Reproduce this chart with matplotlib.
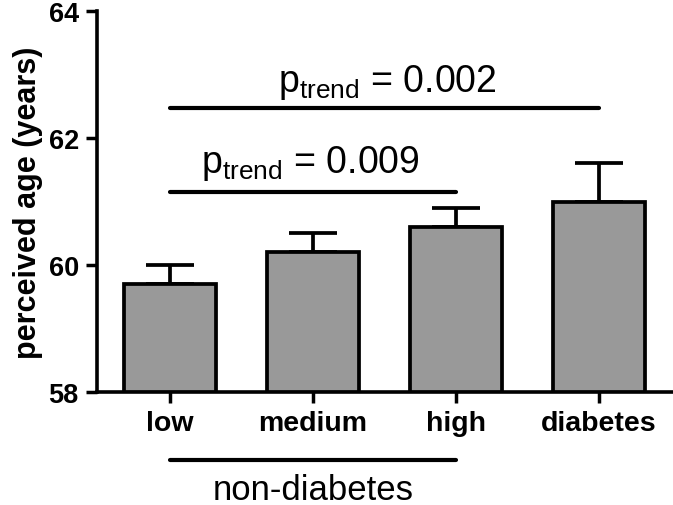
import matplotlib
matplotlib.use("Agg")
import matplotlib.pyplot as plt

categories = ["low", "medium", "high", "diabetes"]
means = [59.7, 60.2, 60.6, 61.0]
errors = [0.3, 0.3, 0.3, 0.6]
yticks = [58, 60, 62, 64]
trend_labels = ["0.009", "0.002"]
trend_line_y = [61.15, 62.47]
trend_line_end = [2, 3]
group_label = "non-diabetes"

plt.rcParams['font.family'] = ['Liberation Sans', 'DejaVu Sans']
plt.rcParams['mathtext.fontset'] = 'custom'
plt.rcParams['mathtext.rm'] = 'Liberation Sans'
plt.rcParams['mathtext.it'] = 'Liberation Sans:italic'
plt.rcParams['mathtext.bf'] = 'Liberation Sans:bold'

fig = plt.figure(figsize=(6.73, 5.06), dpi=100)
ax = fig.add_axes([0.144, 0.2233, 0.8545, 0.7530])

x = list(range(len(categories)))
ax.bar(x, [m - 58 for m in means], bottom=58, width=0.645, color="#999999",
       edgecolor="black", linewidth=2.7, zorder=3)
ax.errorbar(x, means, yerr=[[0] * len(errors), errors], fmt="none",
            ecolor="black", elinewidth=2.7, capsize=17, capthick=2.7, zorder=2)

ax.set_xlim(-0.51, 3.51)
ax.set_ylim(58, 64)
ax.set_yticks(yticks)
ax.set_yticklabels([str(t) for t in yticks], fontsize=19.5, fontweight="bold")
ax.set_xticks(x)
ax.set_xticklabels(categories, fontsize=20.5, fontweight="bold")
ax.tick_params(axis="y", direction="out", length=8, width=2.5, pad=5)
ax.tick_params(axis="x", direction="out", length=8, width=2.5, pad=5)
for s in ["top", "right"]:
    ax.spines[s].set_visible(False)
for s in ["left", "bottom"]:
    ax.spines[s].set_linewidth(2.6)
ax.set_ylabel("perceived age (years)", fontsize=22, fontweight="bold", labelpad=4)

# trend lines and labels
text_x = [0.98, 1.52]
text_y = [61.46, 62.74]
for lab, ly, le, tx, ty in zip(trend_labels, trend_line_y, trend_line_end, text_x, text_y):
    ax.plot([0, le], [ly, ly], color="black", lw=3, solid_capstyle="round", zorder=4)
    ax.text(tx, ty, r"$\mathrm{p}_{\mathrm{trend}}$ = " + lab, fontsize=27,
            ha="center", va="baseline")

# non-diabetes group line
ax.plot([0, 2], [56.93, 56.93], color="black", lw=3, solid_capstyle="round",
        clip_on=False)
ax.text(1.0, 56.31, group_label, fontsize=25, ha="center", va="baseline")

fig.savefig("out.png", dpi=100)
